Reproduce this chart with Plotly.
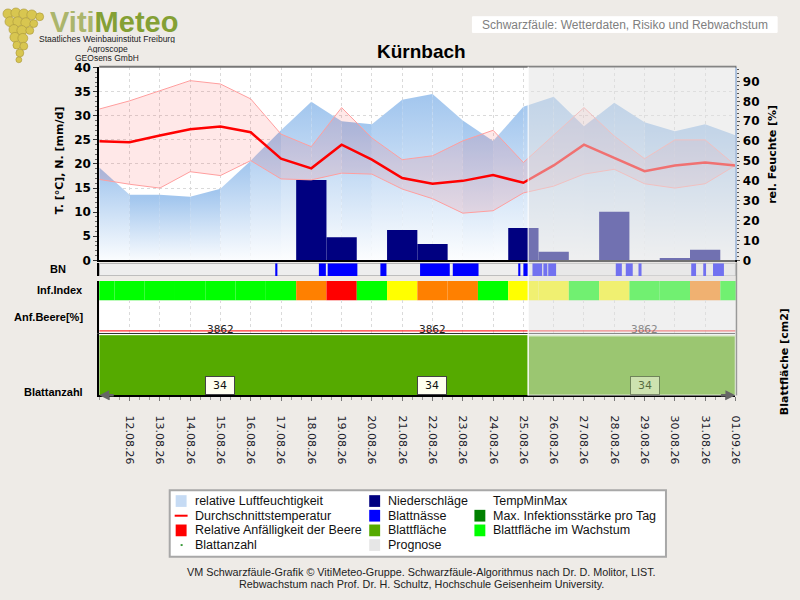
import plotly.graph_objects as go

# Tagesindex: -1 = 11.08.26, 0 = 12.08.26 ... 20 = 01.09.26
tage = list(range(-1, 21))
datum = ["12.08.26", "13.08.26", "14.08.26", "15.08.26", "16.08.26", "17.08.26",
         "18.08.26", "19.08.26", "20.08.26", "21.08.26", "22.08.26", "23.08.26",
         "24.08.26", "25.08.26", "26.08.26", "27.08.26", "28.08.26", "29.08.26",
         "30.08.26", "31.08.26", "01.09.26"]

temp_mittel = [24.7, 24.5, 25.9, 27.2, 27.8, 26.6, 21.1, 19.1, 24.0, 20.9, 17.1,
               15.9, 16.5, 17.7, 16.1, 19.7, 24.0, 21.3, 18.5, 19.7, 20.3, 19.7]
temp_max = [31.4, 33.1, 35.2, 37.3, 36.6, 33.5, 26.2, 23.6, 31.7, 25.4, 20.9,
            21.7, 24.8, 27.0, 20.3, 26.0, 31.7, 25.8, 21.1, 25.0, 25.0, 19.7]
temp_min = [16.8, 15.8, 15.0, 18.4, 17.6, 20.7, 16.9, 16.7, 18.1, 17.9, 14.8,
            12.8, 9.8, 10.3, 14.0, 15.4, 17.9, 18.9, 15.9, 15.0, 15.9, 19.7]
luftfeuchte = [46.8, 33.0, 33.0, 32.0, 36.0, 50.2, 65.5, 79.8, 70.0, 68.5, 80.8,
               83.7, 70.4, 60.1, 77.3, 82.3, 67.5, 79.3, 69.5, 65.0, 68.5, 63.0]
niederschlag = [0, 0, 0, 0, 0, 0, 0, 16.7, 4.8, 0, 6.3,
                3.4, 0, 0, 6.7, 1.8, 0, 10.1, 0, 0.5, 2.2, 0]
# 0 = gering, 1 = mittel, 2 = hoch, 3 = sehr hoch
inf_index = [0, 0, 0, 0, 0, 0, 0, 2, 3, 0, 1,
             2, 2, 0, 1, 1, 0, 1, 0, 0, 2, 0]
anf_beere = [0, 0, 0, 0, 0, 0, 0, 0, 0, 0, 0,
             0, 0, 0, 0, 0, 0, 0, 0, 0, 0, 0]
blattflaeche = [3862, 3862, 3862, 3862, 3862, 3862, 3862, 3862, 3862, 3862, 3862,
                3862, 3862, 3862, 3862, 3862, 3862, 3862, 3862, 3862, 3862, 3862]

# Blattnässe-Perioden (Beginn, Ende) in Tagen
bn_beginn = [4.84, 6.25, 6.54, 8.28, 9.59, 10.67, 12.84, 13.00, 13.30, 13.66,
             13.82, 16.05, 16.38, 16.80, 18.54, 18.97, 19.26]
bn_ende = [4.88, 6.48, 7.52, 8.48, 10.57, 11.52, 12.90, 13.16, 13.62, 13.79,
           14.08, 16.25, 16.61, 16.90, 18.70, 19.03, 19.62]

label_tage = [3, 10, 17]
blattanzahl = [34, 34, 34]
blattflaeche_label = [3862, 3862, 3862]

prognose_ab = 13.16

inf_farben = {0: "#00FF00", 1: "#FFFF00", 2: "#FF8000", 3: "#FF0000"}


def px(x):
    return x / 800


def py(y):
    return 1 - y / 600


def txt(x, y, text, size=11, color="black", family="Liberation Sans", **kw):
    # Text in Pixelkoordinaten des Bildes
    d = dict(x=px(x), y=py(y), xref="paper", yref="paper", text=text, showarrow=False,
             xanchor="center", yanchor="middle",
             font=dict(family=family, size=size, color=color))
    d.update(kw)
    return d


fig = go.Figure()

# relative Luftfeuchtigkeit, je Tag ein eigener Verlauf
for k in range(len(tage) - 1):
    seg = luftfeuchte[k:k + 2]
    fig.add_trace(go.Scatter(
        x=tage[k:k + 2], y=seg, mode="none", fill="tozeroy",
        fillgradient=dict(type="vertical", colorscale=[[0, "#FFFFFF"], [1, "#A2C6EE"]],
                          start=0, stop=max(seg)),
        xaxis="x", yaxis="y", hoverinfo="skip"))

# TempMinMax
fig.add_trace(go.Scatter(x=tage, y=temp_max, mode="lines",
                         line=dict(color="#FF9E9E", width=1), xaxis="x", yaxis="y2"))
fig.add_trace(go.Scatter(x=tage, y=temp_min, mode="lines",
                         line=dict(color="#FF9E9E", width=1), fill="tonexty",
                         fillcolor="rgba(255,0,0,0.09)", xaxis="x", yaxis="y2"))

# Niederschläge
fig.add_trace(go.Bar(x=tage, y=niederschlag, width=1,
                     marker=dict(color="#000080", line_width=0), xaxis="x", yaxis="y2"))

# Durchschnittstemperatur
fig.add_trace(go.Scatter(x=tage, y=temp_mittel, mode="lines",
                         line=dict(color="#FF0000", width=2.5), xaxis="x", yaxis="y2"))

# Blattnässe
bn_mitte = [(a + b) / 2 for a, b in zip(bn_beginn, bn_ende)]
bn_breite = [b - a for a, b in zip(bn_beginn, bn_ende)]
fig.add_trace(go.Bar(x=bn_mitte, y=[1] * len(bn_mitte), width=bn_breite,
                     marker=dict(color="#0000FF", line_width=0), xaxis="x3", yaxis="y3"))

# Infektionsindex
fig.add_trace(go.Bar(x=tage, y=[1] * len(tage), width=1,
                     marker=dict(color=[inf_farben[v] for v in inf_index], line_width=0),
                     xaxis="x4", yaxis="y4"))

# Anfälligkeit der Beere
fig.add_trace(go.Scatter(x=tage, y=anf_beere, mode="lines",
                         line=dict(color="#FF3030", width=1.2), xaxis="x5", yaxis="y5"))

# Blattfläche
fig.add_trace(go.Scatter(x=tage, y=blattflaeche, mode="lines", fill="tozeroy",
                         fillcolor="#55AA00", line=dict(color="#55AA00", width=1),
                         xaxis="x6", yaxis="y6"))

x_dom = [px(100), px(741)]
bold12 = dict(family="DejaVu Sans", size=12, color="black", weight="bold")


def row_x(anchor, grid=False):
    return dict(domain=x_dom, range=[-1, 20], anchor=anchor, showticklabels=False,
                ticks="", zeroline=False, showline=False, showgrid=grid,
                gridcolor="#DADADA", griddash="dot", tick0=0, dtick=1, fixedrange=True)


def row_y(dom, rng, anchor):
    return dict(domain=dom, range=rng, anchor=anchor, showticklabels=False, ticks="",
                showgrid=False, zeroline=False, showline=True, linecolor="black",
                linewidth=2, fixedrange=True)


xaxis5 = row_x("y5", grid=True)
xaxis5.update(showline=True, linecolor="#333333", linewidth=1)

xaxis6 = row_x("y6")
xaxis6.update(showticklabels=True, tickmode="array", tickvals=tage[1:], ticktext=datum,
              tickangle=90, ticks="outside", ticklen=4, tickcolor="#777777",
              tickfont=dict(family="DejaVu Sans", size=11, color="#1A1A2A"),
              ticklabelstandoff=12, showline=True, linecolor="black", linewidth=2,
              minor=dict(dtick=1 / 3, tick0=0, ticks="outside", ticklen=3,
                         tickcolor="#999999"))

shapes = [
    dict(type="rect", xref="x3", yref="y3", x0=-1, x1=20, y0=0, y1=1,
         fillcolor="#EEEEEE", line=dict(color="#8C8C8C", width=1), layer="below"),
    dict(type="line", xref="paper", yref="paper", x0=px(100), x1=px(742),
         y0=py(62), y1=py(62), line=dict(color="#777777", width=2)),
    dict(type="line", xref="paper", yref="paper", x0=px(742), x1=px(742),
         y0=py(398), y1=py(262), line=dict(color="#999999", width=1.5)),
    # Prognose
    dict(type="rect", xref="x", yref="paper", x0=prognose_ab, x1=20,
         y0=py(398), y1=py(62), fillcolor="rgba(225,225,225,0.5)",
         line=dict(width=0), layer="above"),
    dict(type="line", xref="x", yref="paper", x0=prognose_ab, x1=prognose_ab,
         y0=py(398), y1=py(62), line=dict(color="rgba(255,255,255,0.7)", width=1.5),
         layer="above"),
    dict(type="rect", xref="x6", yref="y6", x0=prognose_ab, x1=20, y0=0,
         y1=max(blattflaeche), line=dict(color="rgba(255,255,255,0.6)", width=1.5),
         layer="above"),
    # Legendenrahmen
    dict(type="rect", xref="paper", yref="paper", x0=px(171), x1=px(671),
         y0=py(563), y1=py(495), fillcolor="white",
         line=dict(color="#A8A8A8", width=2)),
    # Kopfzeile rechts
    dict(type="rect", xref="paper", yref="paper", x0=px(476), x1=px(783),
         y0=py(27), y1=py(11), fillcolor="white", line=dict(color="white", width=1)),
]

# Traube im Logo
traube = [(8, 8, 5), (16, 7, 5), (24, 8, 5), (32, 9, 5), (40, 11, 4),
          (10, 16, 5), (18, 16, 5), (26, 17, 5), (34, 18, 4),
          (14, 24, 5), (22, 25, 5), (30, 25, 4),
          (15, 32, 5), (23, 33, 5), (17, 40, 4), (24, 41, 4),
          (20, 48, 4), (19, 55, 3)]
for cx, cy, r in traube:
    shapes.append(dict(type="circle", xref="paper", yref="paper",
                       x0=px(cx - r), x1=px(cx + r), y0=py(cy + r), y1=py(cy - r),
                       fillcolor="#D8C650", line=dict(color="#A8953A", width=0.6)))

annotations = [
    txt(48, 16, "<b><span style='color:#ABB56C'>Viti</span>"
                "<span style='color:#84A034'>Meteo</span></b>", size=29,
        xanchor="left", height=22),
    txt(108, 33, "Staatliches Weinbauinstitut Freiburg", size=8.5, color="#222222",
        height=9, borderpad=0),
    txt(108, 43, "Agroscope", size=8.5, color="#222222", height=9, borderpad=0),
    txt(108, 52.5, "GEOsens GmbH", size=8.5, color="#222222", height=9, borderpad=0),
    txt(630, 19, "Schwarzfäule: Wetterdaten, Risiko und Rebwachstum", size=12,
        color="#808080"),
    txt(425, 46, "<b>Kürnbach</b>", size=19),
    txt(60, 158, "<b>T. [°C], N. [mm/d]</b>", family="DejaVu Sans", textangle=-90),
    txt(779, 152, "<b>rel. Feuchte [%]</b>", family="DejaVu Sans", textangle=-90),
    txt(790, 364, "<b>Blattfläche [cm2]</b>", family="DejaVu Sans", textangle=-90),
    txt(69, 269, "<b>BN</b>", xanchor="right"),
    txt(86, 290, "<b>Inf.Index</b>", xanchor="right"),
    txt(86, 318, "<b>Anf.Beere[%]</b>", xanchor="right"),
    txt(86, 395, "<b>Blattanzahl</b>", xanchor="right"),
    txt(425, 579, "VM Schwarzfäule-Grafik © VitiMeteo-Gruppe. "
                  "Schwarzfäule-Algorithmus nach Dr. D. Molitor, LIST.",
        size=10.8, color="#222222"),
    txt(425, 591, "Rebwachstum nach Prof. Dr. H. Schultz, Hochschule Geisenheim "
                  "University.", size=10.8, color="#222222"),
    # Pfeile an der Zeitachse
    dict(x=-1, y=0, xref="x6", yref="y6", ax=16, ay=0, text="", showarrow=True,
         arrowhead=2, arrowsize=0.8, arrowwidth=2.5, arrowcolor="#666666"),
    dict(x=20, y=0, xref="x6", yref="y6", ax=-16, ay=0, text="", showarrow=True,
         arrowhead=2, arrowsize=0.8, arrowwidth=2.5, arrowcolor="#666666"),
]

for d, n, fl in zip(label_tage, blattanzahl, blattflaeche_label):
    op = 0.5 if d > prognose_ab else 1
    annotations.append(dict(x=d, xref="x6", y=py(388), yref="paper", text=str(n),
                            showarrow=False, bgcolor="#FFFFF0", bordercolor="#444444",
                            borderwidth=1, borderpad=2, width=24, height=13, opacity=op,
                            xanchor="center", yanchor="middle",
                            font=dict(family="DejaVu Sans", size=11, color="#111111")))
    annotations.append(dict(x=d, xref="x6", y=fl, yref="y6", yanchor="middle",
                            xanchor="center", yshift=7, text=str(fl), showarrow=False,
                            opacity=op,
                            font=dict(family="DejaVu Sans", size=10.5, color="#222222")))

# Legende
legende = [
    ("relative Luftfeuchtigkeit", "box", "#C6DBF4", 0, 0),
    ("Durchschnittstemperatur", "line", "#FF0000", 0, 1),
    ("Relative Anfälligkeit der Beere", "box", "#FF0000", 0, 2),
    ("Blattanzahl", "dot", "#3A9A3A", 0, 3),
    ("Niederschläge", "box", "#000080", 1, 0),
    ("Blattnässe", "box", "#0000FF", 1, 1),
    ("Blattfläche", "box", "#55AA00", 1, 2),
    ("Prognose", "box", "#E6E6E6", 1, 3),
    ("TempMinMax", "none", None, 2, 0),
    ("Max. Infektionsstärke pro Tag", "box", "#008000", 2, 1),
    ("Blattfläche im Wachstum", "box", "#00FF00", 2, 2),
]
spalte_sw = [177, 372, 478]
spalte_tx = [194, 389, 495]
zeile_y = [506, 521, 536, 551]
for text, art, farbe, sp, ze in legende:
    sx, cy = spalte_sw[sp], zeile_y[ze]
    if art == "box":
        shapes.append(dict(type="rect", xref="paper", yref="paper", x0=px(sx),
                           x1=px(sx + 11), y0=py(cy + 6), y1=py(cy - 6),
                           fillcolor=farbe, line=dict(width=0)))
    elif art == "line":
        shapes.append(dict(type="line", xref="paper", yref="paper", x0=px(sx - 1),
                           x1=px(sx + 12), y0=py(cy), y1=py(cy),
                           line=dict(color=farbe, width=2)))
    elif art == "dot":
        shapes.append(dict(type="rect", xref="paper", yref="paper", x0=px(sx + 5),
                           x1=px(sx + 7), y0=py(cy + 1), y1=py(cy - 1),
                           fillcolor=farbe, line=dict(width=0)))
    annotations.append(txt(spalte_tx[sp], cy, text, size=12.5, color="#111111",
                           xanchor="left"))

fig.update_layout(
    width=800, height=600, margin=dict(l=0, r=0, t=0, b=0), autosize=False,
    paper_bgcolor="#EEEBE7", plot_bgcolor="white", showlegend=False,
    hovermode=False, barmode="overlay", dragmode=False,
    font=dict(family="DejaVu Sans", size=11, color="black"),
    xaxis=dict(domain=x_dom, range=[-1, 20], anchor="y", showticklabels=False,
               ticks="", showgrid=True, gridcolor="#DADADA", griddash="dot",
               tick0=0, dtick=1, showline=True, linecolor="black", linewidth=2,
               zeroline=False, fixedrange=True),
    yaxis=dict(domain=[py(260), py(62)], range=[0, 97.5], side="right", anchor="x",
               tickmode="array", tickvals=list(range(0, 100, 10)), tickfont=bold12,
               showgrid=False, showline=True, linecolor="#A9BEDB", linewidth=2,
               ticks="outside", ticklen=3, tickcolor="#555555",
               minor=dict(dtick=2, ticks="outside", ticklen=2, tickcolor="#555555"),
               zeroline=False, fixedrange=True),
    yaxis2=dict(overlaying="y", side="left", anchor="x", range=[0, 40.2], tick0=0,
                dtick=5, tickfont=bold12, showgrid=True, gridcolor="#DADADA",
                griddash="dot", showline=True, linecolor="black", linewidth=2,
                ticks="outside", ticklen=4, tickcolor="#333333",
                minor=dict(dtick=1, ticks="outside", ticklen=2, tickcolor="#666666"),
                zeroline=False, fixedrange=True),
    xaxis3=row_x("y3"), yaxis3=row_y([py(276), py(263)], [0, 1], "x3"),
    xaxis4=row_x("y4"), yaxis4=row_y([py(301), py(281)], [0, 1], "x4"),
    xaxis5=xaxis5, yaxis5=row_y([py(334), py(301)], [-0.065, 1], "x5"),
    xaxis6=xaxis6, yaxis6=row_y([py(398), py(335)], [0, 3990], "x6"),
    shapes=shapes, annotations=annotations,
)

fig.write_html("out.html", config={"displayModeBar": False},
               post_script="document.body.style.margin='0';"
                           "document.body.style.overflow='hidden';")
